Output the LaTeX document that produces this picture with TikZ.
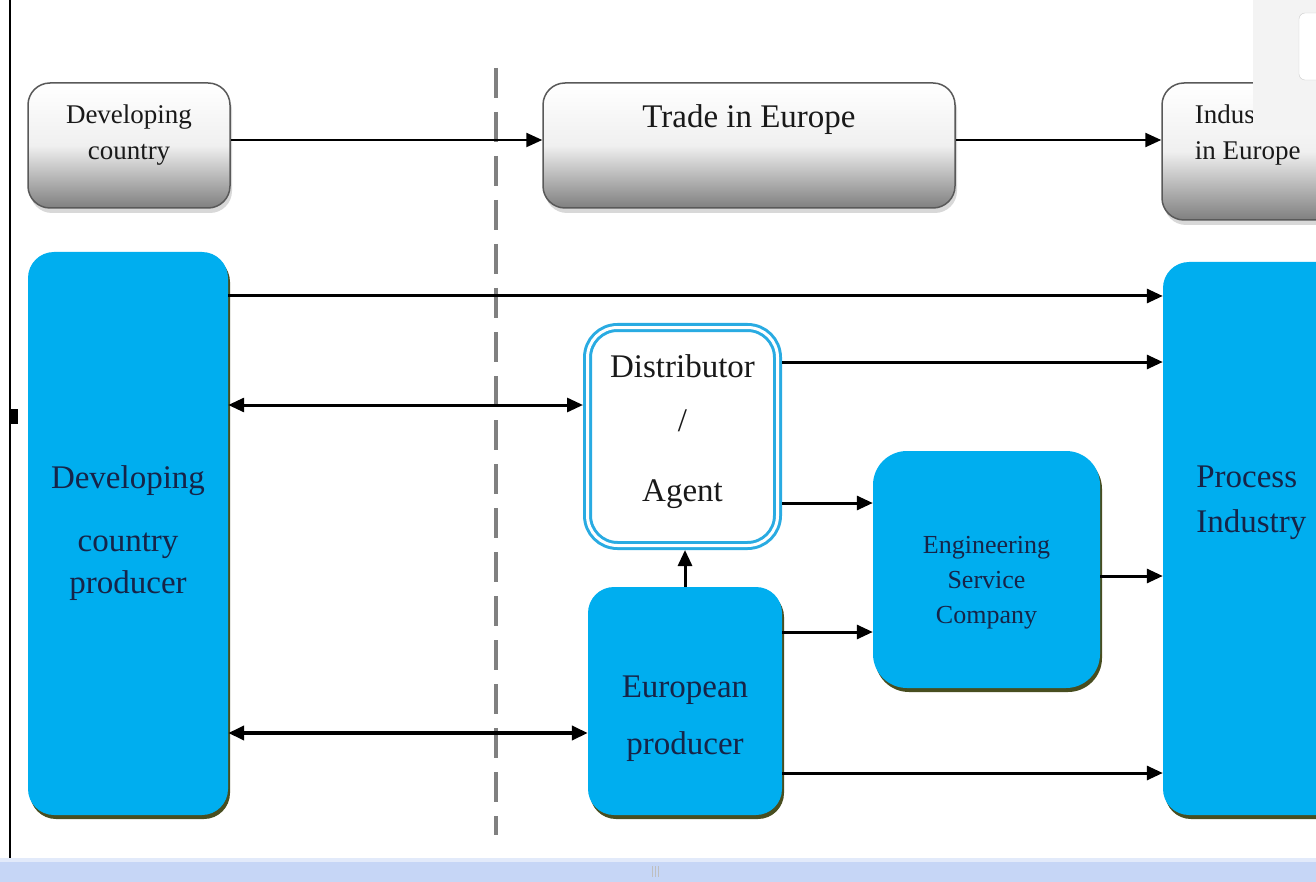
\documentclass[tikz,border=0pt]{standalone}
\usepackage{fontspec}
\setmainfont{Liberation Serif}
\usetikzlibrary{arrows.meta,shadows}
\definecolor{skyblue}{RGB}{0,174,239}
\definecolor{navytext}{RGB}{22,36,72}
\definecolor{shadowolive}{RGB}{72,78,32}
\definecolor{bordercyan}{RGB}{41,171,226}
\definecolor{barblue}{RGB}{198,214,246}
\definecolor{barlight}{RGB}{226,234,250}
\definecolor{panelgray}{RGB}{243,243,243}

\begin{document}
\begin{tikzpicture}[x=1pt, y=-1pt,
			graybox/.style={
				rectangle,
				rounded corners=22pt,
				draw=black!65,
				line width=1.5pt,
				top color=white,
				bottom color=black!50,
				middle color=black!6,
				drop shadow={shadow xshift=2pt, shadow yshift=-5pt, opacity=.3}},
			graytext/.style={
				text=black!90,
				font=\fontsize{27}{36}\selectfont},
			bluetext/.style={
				text=navytext,
				font=\fontsize{33}{40}\selectfont},
			bluebox/.style={
				rectangle,
				rounded corners=26pt,
				fill=skyblue,
				draw=none,
				drop shadow={fill=shadowolive, opacity=1, shadow xshift=2pt, shadow yshift=-4pt},
				bluetext,
				align=center},
			agentbox/.style={
				rectangle,
				rounded corners=30pt,
				draw=bordercyan,
				double=white,
				double distance=3pt,
				line width=3pt,
				outer sep=4.5pt,
				fill=white,
				text=black!90,
				align=center,
				font=\fontsize{33}{40}\selectfont},
			divider/.style={
				draw=black!50,
				line width=4pt,
				dash pattern=on 30pt off 14pt},
			flow/.style={
				draw=black,
				line width=3pt,
				-{Triangle[length=16pt, width=14pt]}},
			thinflow/.style={
				flow,
				line width=2.3pt},
			twoway/.style={
				draw=black,
				line width=3pt,
				{Triangle[length=16pt, width=14pt]}-{Triangle[length=16pt, width=14pt]}}]
			\clip (0,0) rectangle (1316,882);
			\fill[white] (0,0) rectangle (1316,882);
			\draw[divider] (496,68) -- (496,835);
			% top row
			\node[graybox, minimum width=202pt, minimum height=125pt] (dctop) at (129,145.5) {};
			\node[graybox, minimum width=412pt, minimum height=125pt] (trade) at (749,145.5) {};
			\node[graybox, minimum width=180pt, minimum height=137pt] (industry) at (1252,151.5) {};
			\node[graytext, align=center] (dctoplbl) at ([yshift=10pt]dctop.center) {Developing\\country};
			\node[graytext, font=\fontsize{33}{40}\selectfont] (tradelbl) at ([yshift=26pt]trade.center) {Trade in Europe};
			\node[graytext, align=left, anchor=west] (industrylbl) at ([xshift=30pt, yshift=16pt]industry.west) {Industry\\in Europe};
			% lower part
			\node[bluebox, minimum width=200pt, minimum height=563pt] (dcp) at (128,533.5)
				{Developing\\[23pt]country\\[2pt]producer};
			\node[agentbox, minimum width=190pt, minimum height=218pt] (distrib) at (682.5,436.5)
				{Distributor\\[14pt]/\\[30pt]Agent\rule[-17pt]{0pt}{17pt}};
			\node[bluebox, minimum width=194pt, minimum height=228pt] (eprod) at (685,701)
				{\rule{0pt}{57pt}European\\[17pt]producer};
			\node[bluebox, rounded corners=34pt, minimum width=227pt, minimum height=237pt,
				font=\fontsize{26}{35}\selectfont] (esc) at (986.5,569.5)
				{\rule{0pt}{44pt}Engineering\\Service\\Company};
			\node[bluebox, minimum width=180pt, minimum height=553pt] (process) at (1253,538.5) {};
			\node[bluetext, align=left, anchor=west, font=\fontsize{33}{45}\selectfont] (processlbl)
				at ([xshift=30pt, yshift=36pt]process.west) {Process\\Industry};
			% connectors
			\draw[thinflow] (dctop.east |- 0,140) -- (trade.west |- 0,140);
			\draw[thinflow] (trade.east |- 0,140) -- (industry.west |- 0,140);
			\draw[flow] (dcp.east |- 0,296) -- (process.west |- 0,296);
			\draw[twoway] (dcp.east |- 0,405) -- (distrib.west |- 0,405);
			\draw[flow] (distrib.east |- 0,362) -- (process.west |- 0,362);
			\draw[flow] (distrib.east |- 0,503) -- (esc.west |- 0,503);
			\draw[flow] (eprod.north) -- (distrib.south -| eprod.north);
			\draw[flow] (eprod.east |- 0,632) -- (esc.west |- 0,632);
			\draw[flow] (esc.east |- 0,576) -- (process.west |- 0,576);
			\draw[twoway, line width=4.5pt] (dcp.east |- 0,733) -- (eprod.west |- 0,733);
			\draw[flow] (eprod.east |- 0,773) -- (process.west |- 0,773);
			% window frame
			\fill[panelgray] (1253,0) rectangle (1316,130);
			\draw[black!20, fill=white, rounded corners=6pt] (1299,13) rectangle (1330,80);
			\draw[black, line width=1.5pt] (10,0) -- (10,858);
			\fill[black] (10,409) rectangle (18,424);
			\fill[barblue] (0,858) rectangle (1316,882);
			\fill[barlight] (0,858) rectangle (1316,862);
			\foreach \i in {652, 655, 658}
				\draw[black!25, line width=.6pt] (\i,866) -- (\i,877);
\end{tikzpicture}
\end{document}
